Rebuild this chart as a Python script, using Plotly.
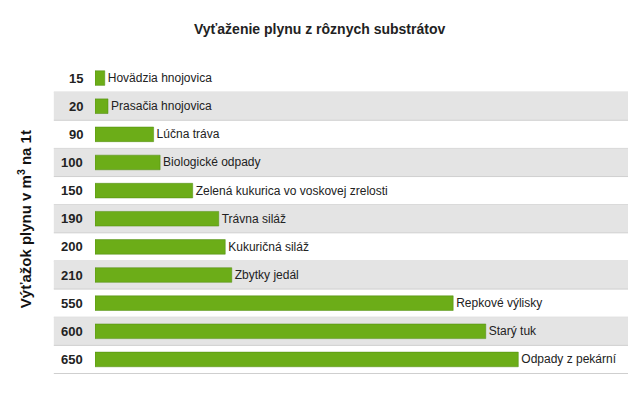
import plotly.graph_objects as go

substrates = ['Hovädzia hnojovica', 'Prasačia hnojovica', 'Lúčna tráva', 'Biologické odpady',
              'Zelená kukurica vo voskovej zrelosti', 'Trávna siláž', 'Kukuričná siláž',
              'Zbytky jedál', 'Repkové výlisky', 'Starý tuk', 'Odpady z pekární']
yields = [15, 20, 90, 100, 150, 190, 200, 210, 550, 600, 650]

fig = go.Figure(go.Bar(
    x=yields, y=substrates, orientation='h', width=0.52,
    marker=dict(color='#6cad18', line=dict(color='#4f8a0e', width=0.5)),
    text=substrates, textposition='outside', cliponaxis=False,
    textfont=dict(family='Arial', size=12, color='#222'),
))

shapes = []
for i, s in enumerate(substrates):
    if i % 2 == 1:
        shapes.append(dict(type='rect', xref='paper', yref='y', x0=-0.075, x1=1,
                           y0=i - 0.5, y1=i + 0.5, fillcolor='#e4e4e4', line_width=0, layer='below'))
    shapes.append(dict(type='line', xref='paper', yref='y', x0=-0.075, x1=1,
                       y0=i + 0.5, y1=i + 0.5, line=dict(color='#cfcfcf', width=1), layer='below'))
    fig.add_annotation(x=-0.018, xref='paper', y=s, yref='y', text=f'<b>{yields[i]}</b>',
                       showarrow=False, xanchor='right', font=dict(family='Arial', size=13, color='#222'))

fig.add_annotation(x=-0.15, xref='paper', y=0.5, yref='paper', text='<b>Výťažok plynu v m<sup>3</sup> na 1t</b>',
                   showarrow=False, textangle=-90, font=dict(family='Arial', size=15, color='#111'))

fig.update_layout(
    width=636, height=408, plot_bgcolor='white', paper_bgcolor='white',
    margin=dict(l=87, r=0, t=56, b=42), showlegend=False, shapes=shapes,
    title=dict(text='<b>Vyťaženie plynu z rôznych substrátov</b>', x=0.49, y=0.96,
               font=dict(family='Arial', size=14, color='#222')),
    xaxis=dict(range=[0, 843], visible=False),
    yaxis=dict(autorange='reversed', showticklabels=False, showgrid=False, zeroline=False),
)
fig.write_html('out.html')
